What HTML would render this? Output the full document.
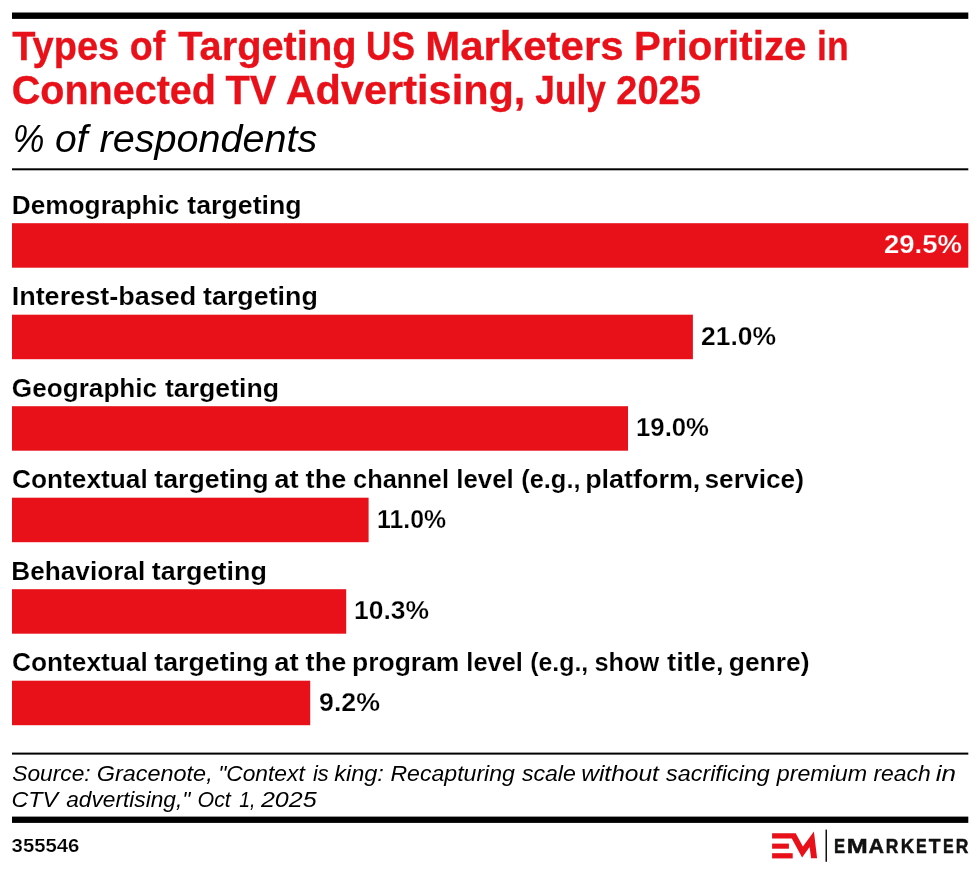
<!DOCTYPE html>
<html>
<head>
<meta charset="utf-8">
<title>Types of Targeting US Marketers Prioritize in Connected TV Advertising, July 2025</title>
<style>
html,body{margin:0;padding:0;background:#fff;}
body{width:980px;height:873px;overflow:hidden;font-family:"Liberation Sans",sans-serif;}
svg{display:block;will-change:transform;}
text{font-family:"Liberation Sans",sans-serif;}
.t{font-weight:bold;font-size:40.5px;fill:#e8111a;stroke:#e8111a;stroke-width:0.3px;}
.s{font-style:italic;font-size:38px;fill:#000;}
.l{font-weight:bold;font-size:25.6px;fill:#000;stroke:#fff;stroke-width:0.15px;}
.v{font-weight:bold;font-size:25.3px;fill:#000;stroke:#fff;stroke-width:0.25px;}
.src{font-style:italic;font-size:22.3px;fill:#000;}
.id{font-weight:bold;font-size:17.8px;fill:#000;stroke:#fff;stroke-width:0.2px;}
.em{font-weight:bold;font-size:20.3px;fill:#111;}
</style>
</head>
<body>
<svg width="980" height="873" viewBox="0 0 980 873">
<rect x="0" y="0" width="980" height="873" fill="#ffffff"/>
<!-- top rule -->
<rect x="12" y="12.5" width="956.3" height="6.4" fill="#000"/>
<!-- title -->
<text class="t" x="12.13" y="60.4" textLength="107.16" lengthAdjust="spacingAndGlyphs">Types</text>
<text class="t" x="129.71" y="60.4" textLength="35.48" lengthAdjust="spacingAndGlyphs">of</text>
<text class="t" x="178.21" y="60.4" textLength="178.29" lengthAdjust="spacingAndGlyphs">Targeting</text>
<text class="t" x="366.02" y="60.4" textLength="49.1" lengthAdjust="spacingAndGlyphs">US</text>
<text class="t" x="425.15" y="60.4" textLength="198.54" lengthAdjust="spacingAndGlyphs">Marketers</text>
<text class="t" x="634.06" y="60.4" textLength="172.43" lengthAdjust="spacingAndGlyphs">Prioritize</text>
<text class="t" x="817.09" y="60.4" textLength="31.61" lengthAdjust="spacingAndGlyphs">in</text>
<text class="t" x="11.79" y="103.6" textLength="204.21" lengthAdjust="spacingAndGlyphs">Connected</text>
<text class="t" x="225.41" y="103.6" textLength="51.06" lengthAdjust="spacingAndGlyphs">TV</text>
<text class="t" x="285.68" y="103.6" textLength="239.69" lengthAdjust="spacingAndGlyphs">Advertising,</text>
<text class="t" x="535.35" y="103.6" textLength="70.41" lengthAdjust="spacingAndGlyphs">July</text>
<text class="t" x="616.29" y="103.6" textLength="84.65" lengthAdjust="spacingAndGlyphs">2025</text>
<text class="s" x="12.72" y="152.3" textLength="31.73" lengthAdjust="spacingAndGlyphs">%</text>
<text class="s" x="55.11" y="152.3" textLength="32.6" lengthAdjust="spacingAndGlyphs">of</text>
<text class="s" x="99.52" y="152.3" textLength="217.82" lengthAdjust="spacingAndGlyphs">respondents</text>
<!-- thin rule -->
<rect x="12" y="168.3" width="956.3" height="2" fill="#000"/>

<!-- bars -->
<g fill="#e8111a">
<rect x="12" y="223.2" width="956.3" height="44.5"/>
<rect x="12" y="314.7" width="680.9" height="44.5"/>
<rect x="12" y="406.2" width="616" height="44.5"/>
<rect x="12" y="497.7" width="356.6" height="44.5"/>
<rect x="12" y="589.2" width="334.2" height="44.5"/>
<rect x="12" y="680.7" width="298.2" height="44.5"/>
</g>

<!-- labels -->
<text class="l" x="11.71" y="213.5" textLength="167.73" lengthAdjust="spacingAndGlyphs">Demographic</text>
<text class="l" x="187.34" y="213.5" textLength="114.29" lengthAdjust="spacingAndGlyphs">targeting</text>
<text class="l" x="11.65" y="305.0" textLength="184.54" lengthAdjust="spacingAndGlyphs">Interest-based</text>
<text class="l" x="203.04" y="305.0" textLength="114.8" lengthAdjust="spacingAndGlyphs">targeting</text>
<text class="l" x="11.88" y="396.5" textLength="145.26" lengthAdjust="spacingAndGlyphs">Geographic</text>
<text class="l" x="164.94" y="396.5" textLength="114.08" lengthAdjust="spacingAndGlyphs">targeting</text>
<text class="l" x="11.97" y="488.0" textLength="135.72" lengthAdjust="spacingAndGlyphs">Contextual</text>
<text class="l" x="154.34" y="488.0" textLength="114.29" lengthAdjust="spacingAndGlyphs">targeting</text>
<text class="l" x="274.3" y="488.0" textLength="24.39" lengthAdjust="spacingAndGlyphs">at</text>
<text class="l" x="305.63" y="488.0" textLength="40.71" lengthAdjust="spacingAndGlyphs">the</text>
<text class="l" x="353.11" y="488.0" textLength="95.9" lengthAdjust="spacingAndGlyphs">channel</text>
<text class="l" x="456.23" y="488.0" textLength="57.53" lengthAdjust="spacingAndGlyphs">level</text>
<text class="l" x="521.16" y="488.0" textLength="59.37" lengthAdjust="spacingAndGlyphs">(e.g.,</text>
<text class="l" x="585.16" y="488.0" textLength="115.18" lengthAdjust="spacingAndGlyphs">platform,</text>
<text class="l" x="704.47" y="488.0" textLength="99.53" lengthAdjust="spacingAndGlyphs">service)</text>
<text class="l" x="11.31" y="579.5" textLength="133.91" lengthAdjust="spacingAndGlyphs">Behavioral</text>
<text class="l" x="151.74" y="579.5" textLength="115.1" lengthAdjust="spacingAndGlyphs">targeting</text>
<text class="l" x="11.97" y="671.0" textLength="135.72" lengthAdjust="spacingAndGlyphs">Contextual</text>
<text class="l" x="154.34" y="671.0" textLength="114.29" lengthAdjust="spacingAndGlyphs">targeting</text>
<text class="l" x="274.3" y="671.0" textLength="24.39" lengthAdjust="spacingAndGlyphs">at</text>
<text class="l" x="305.63" y="671.0" textLength="40.71" lengthAdjust="spacingAndGlyphs">the</text>
<text class="l" x="352.09" y="671.0" textLength="107.32" lengthAdjust="spacingAndGlyphs">program</text>
<text class="l" x="466.36" y="671.0" textLength="56.56" lengthAdjust="spacingAndGlyphs">level</text>
<text class="l" x="530.18" y="671.0" textLength="58.1" lengthAdjust="spacingAndGlyphs">(e.g.,</text>
<text class="l" x="594.41" y="671.0" textLength="64.81" lengthAdjust="spacingAndGlyphs">show</text>
<text class="l" x="667.13" y="671.0" textLength="56.51" lengthAdjust="spacingAndGlyphs">title,</text>
<text class="l" x="728.77" y="671.0" textLength="80.69" lengthAdjust="spacingAndGlyphs">genre)</text>

<!-- values -->
<text class="v" x="884" y="253.3" textLength="78" lengthAdjust="spacingAndGlyphs" style="fill:#fff;stroke:#e8111a">29.5%</text>
<text class="v" x="701" y="344.8" textLength="75" lengthAdjust="spacingAndGlyphs">21.0%</text>
<text class="v" x="636" y="436.3" textLength="73" lengthAdjust="spacingAndGlyphs">19.0%</text>
<text class="v" x="377" y="527.8" textLength="69" lengthAdjust="spacingAndGlyphs">11.0%</text>
<text class="v" x="354" y="619.3" textLength="75" lengthAdjust="spacingAndGlyphs">10.3%</text>
<text class="v" x="319" y="710.8" textLength="61" lengthAdjust="spacingAndGlyphs">9.2%</text>

<!-- source -->
<rect x="12" y="752.6" width="956.3" height="2" fill="#000"/>
<text class="src" x="12.23" y="780.5" textLength="78.43" lengthAdjust="spacingAndGlyphs">Source:</text>
<text class="src" x="96.65" y="780.5" textLength="116.05" lengthAdjust="spacingAndGlyphs">Gracenote,</text>
<text class="src" x="218.16" y="780.5" textLength="86.59" lengthAdjust="spacingAndGlyphs">&quot;Context</text>
<text class="src" x="312.91" y="780.5" textLength="15.68" lengthAdjust="spacingAndGlyphs">is</text>
<text class="src" x="334.17" y="780.5" textLength="49.74" lengthAdjust="spacingAndGlyphs">king:</text>
<text class="src" x="390.42" y="780.5" textLength="124.52" lengthAdjust="spacingAndGlyphs">Recapturing</text>
<text class="src" x="521.9" y="780.5" textLength="53.94" lengthAdjust="spacingAndGlyphs">scale</text>
<text class="src" x="581.2" y="780.5" textLength="77.67" lengthAdjust="spacingAndGlyphs">without</text>
<text class="src" x="666.1" y="780.5" textLength="103.75" lengthAdjust="spacingAndGlyphs">sacrificing</text>
<text class="src" x="776.82" y="780.5" textLength="90.3" lengthAdjust="spacingAndGlyphs">premium</text>
<text class="src" x="873.49" y="780.5" textLength="57.27" lengthAdjust="spacingAndGlyphs">reach</text>
<text class="src" x="935.82" y="780.5" textLength="20.28" lengthAdjust="spacingAndGlyphs">in</text>
<text class="src" x="11.49" y="807" textLength="46.69" lengthAdjust="spacingAndGlyphs">CTV</text>
<text class="src" x="66.19" y="807" textLength="124.18" lengthAdjust="spacingAndGlyphs">advertising,&quot;</text>
<text class="src" x="197.5" y="807" textLength="33.32" lengthAdjust="spacingAndGlyphs">Oct</text>
<text class="src" x="239.26" y="807" textLength="16.21" lengthAdjust="spacingAndGlyphs">1,</text>
<text class="src" x="260.9" y="807" textLength="55.72" lengthAdjust="spacingAndGlyphs">2025</text>
<rect x="12" y="816.6" width="956.3" height="6.3" fill="#000"/>
<text class="id" x="11.6" y="851.7" textLength="67.8" lengthAdjust="spacingAndGlyphs">355546</text>

<!-- logo -->
<g fill="#e8111a">
<polygon points="772.1,833.2 795.7,833.2 802.9,846.4 813.9,831.4 817.1,858.3 811.1,858.3 809.6,847.1 802.1,857.5 791.8,838.6 772.1,838.6"/>
<rect x="772.1" y="843.6" width="16.8" height="5.1"/>
<rect x="772.1" y="853.2" width="20.6" height="5.2"/>
</g>
<rect x="825.5" y="829.6" width="1.5" height="32.2" fill="#111"/>
<g stroke="#111" stroke-width="0.5" stroke-linejoin="miter">
<text class="em" x="834.1" y="853" textLength="11.06" lengthAdjust="spacingAndGlyphs">E</text>
<text class="em" x="846.7" y="853" textLength="20.97" lengthAdjust="spacingAndGlyphs">M</text>
<text class="em" x="868.5" y="853" textLength="15.50" lengthAdjust="spacingAndGlyphs">A</text>
<text class="em" x="885.8" y="853" textLength="12.63" lengthAdjust="spacingAndGlyphs">R</text>
<text class="em" x="900.7" y="853" textLength="13.41" lengthAdjust="spacingAndGlyphs">K</text>
<text class="em" x="915.9" y="853" textLength="10.70" lengthAdjust="spacingAndGlyphs">E</text>
<text class="em" x="928.7" y="853" textLength="11.83" lengthAdjust="spacingAndGlyphs">T</text>
<text class="em" x="942.9" y="853" textLength="10.70" lengthAdjust="spacingAndGlyphs">E</text>
<text class="em" x="955.8" y="853" textLength="12.63" lengthAdjust="spacingAndGlyphs">R</text>
</g>
</svg>
</body>
</html>
